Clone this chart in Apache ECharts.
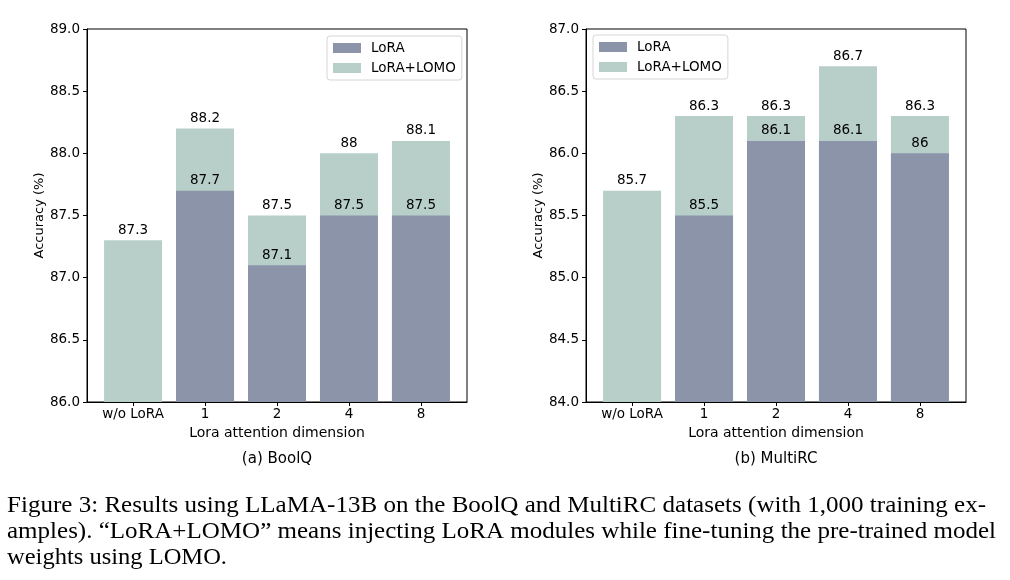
<!DOCTYPE html>
<html>
<head>
<meta charset="utf-8">
<script src="https://cdn.jsdelivr.net/npm/echarts@6/dist/echarts.min.js"></script>
<style>
html,body{margin:0;padding:0;background:#fff;}
#chart{width:1010px;height:580px;}
</style>
</head>
<body>
<div id="chart"></div>
<script>
// ---- data ----
const categories = ['w/o LoRA', '1', '2', '4', '8'];
const boolqLora = [null, 87.7, 87.1, 87.5, 87.5];
const boolqLoraLomo = [87.3, 88.2, 87.5, 88.0, 88.1];
const multircLora = [null, 85.5, 86.1, 86.1, 86.0];
const multircLoraLomo = [85.7, 86.3, 86.3, 86.7, 86.3];
const boolqYTicks = [86.0, 86.5, 87.0, 87.5, 88.0, 88.5, 89.0];
const multircYTicks = [84.0, 84.5, 85.0, 85.5, 86.0, 86.5, 87.0];
const captionLines = [
  'Figure 3: Results using LLaMA-13B on the BoolQ and MultiRC datasets (with 1,000 training ex-',
  'amples). \u201CLoRA+LOMO\u201D means injecting LoRA modules while fine-tuning the pre-trained model',
  'weights using LOMO.'
];

const COLOR_LORA = '#8c94a9';
const COLOR_LOMO = '#b7cfc8';
const FONT = 'DejaVu Sans';

const chart = echarts.init(document.getElementById('chart'), null, {renderer: 'canvas'});

function toPairs(arr) {
  return arr.map((v, i) => v == null ? null : [i, v]).filter(d => d);
}

const catIdx = categories.map((c, i) => i);

function xAxis(gi) {
  return {
    type: 'value', gridIndex: gi, min: -0.64, max: 4.64,
    name: 'Lora attention dimension', nameLocation: 'middle', nameGap: 17,
    nameTextStyle: {fontFamily: FONT, fontSize: 14, color: '#000'},
    splitLine: {show: false},
    axisLine: {show: true, onZero: false, lineStyle: {color: '#000', width: 1}},
    axisTick: {show: true, customValues: catIdx, length: 4, lineStyle: {color: '#000'}},
    axisLabel: {customValues: catIdx, formatter: v => categories[Math.round(v)], margin: 5,
      fontFamily: FONT, fontSize: 13.5, color: '#000'}
  };
}
function yAxis(gi, ticks) {
  return {
    type: 'value', gridIndex: gi, min: ticks[0], max: ticks[ticks.length - 1], interval: 0.5,
    name: 'Accuracy (%)', nameLocation: 'middle', nameGap: 35,
    nameTextStyle: {fontFamily: FONT, fontSize: 13, color: '#000'},
    splitLine: {show: false},
    axisLine: {show: true, onZero: false, lineStyle: {color: '#000', width: 1}},
    axisTick: {show: true, length: 4, lineStyle: {color: '#000'}},
    axisLabel: {formatter: v => v.toFixed(1), margin: 7, fontFamily: FONT, fontSize: 13.5, color: '#000'}
  };
}
function barSeries(name, gi, data, color) {
  return {
    type: 'bar', name: name, xAxisIndex: gi, yAxisIndex: gi,
    data: toPairs(data), barWidth: 58, barGap: '-100%',
    itemStyle: {color: color},
    label: {show: true, position: 'top', distance: 3, fontFamily: FONT, fontSize: 13.5, color: '#000',
      formatter: p => String(p.value[1])},
    emphasis: {disabled: true},
    animation: false
  };
}
function legend(left, top) {
  return {
    left: left, top: top, orient: 'vertical', data: ['LoRA', 'LoRA+LOMO'],
    icon: 'rect', itemWidth: 28, itemHeight: 10, itemGap: 6,
    backgroundColor: '#fff', borderColor: '#d6d6d6', borderWidth: 1, borderRadius: 3,
    padding: [5, 6, 5, 6],
    textStyle: {fontFamily: FONT, fontSize: 13.5, color: '#000', padding: [0, 0, 0, 5]}
  };
}

// caption scaling
const cv = document.createElement('canvas').getContext('2d');
const capFont = 23;
cv.font = capFont + 'px "Liberation Serif"';
const capW = captionLines.map(t => cv.measureText(t).width);
const targets = [979, 989, 220];
const capScale = capW.map((w, i) => targets[i] / w);

const option = {
  backgroundColor: '#fff',
  animation: false,
  grid: [
    {left: 87, top: 29, width: 380, height: 373, show: true, borderColor: '#000', borderWidth: 1},
    {left: 586, top: 29, width: 380, height: 373, show: true, borderColor: '#000', borderWidth: 1}
  ],
  xAxis: [xAxis(0), xAxis(1)],
  yAxis: [yAxis(0, boolqYTicks), yAxis(1, multircYTicks)],
  legend: [legend(327, 36), legend(593, 35)],
  series: [
    barSeries('LoRA+LOMO', 0, boolqLoraLomo, COLOR_LOMO),
    barSeries('LoRA', 0, boolqLora, COLOR_LORA),
    barSeries('LoRA+LOMO', 1, multircLoraLomo, COLOR_LOMO),
    barSeries('LoRA', 1, multircLora, COLOR_LORA)
  ],
  graphic: [
    {type: 'text', x: 277, y: 459, style: {text: '(a) BoolQ', font: '15px "DejaVu Sans"', fill: '#000', textAlign: 'center', textVerticalAlign: 'middle'}},
    {type: 'text', x: 776, y: 459, style: {text: '(b) MultiRC', font: '15px "DejaVu Sans"', fill: '#000', textAlign: 'center', textVerticalAlign: 'middle'}}
  ].concat(captionLines.map((t, i) => ({
    type: 'text', x: 7, y: 506 + i * 26, scaleX: capScale[i],
    style: {text: t, font: capFont + 'px "Liberation Serif"', fill: '#000', textVerticalAlign: 'middle', textAlign: 'left'}
  })))
};
chart.setOption(option);
</script>
</body>
</html>
